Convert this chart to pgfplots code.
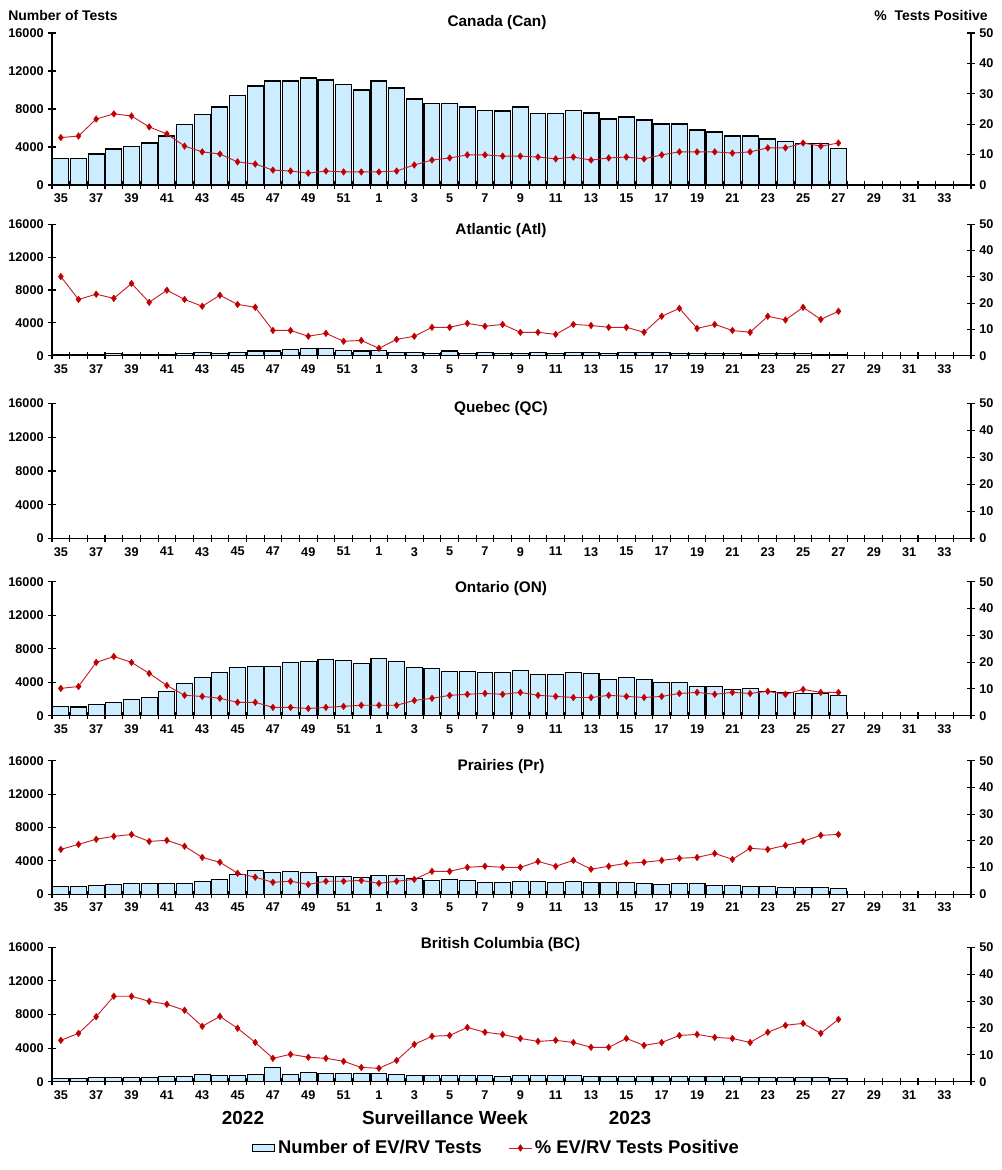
\documentclass[border=0pt]{standalone}
\usepackage{fontspec}
\setmainfont{Liberation Sans}
\usepackage{pgfplots}
\usepackage{pgfplotstable}
\pgfplotsset{compat=1.18}
\definecolor{barblue}{RGB}{204,236,255}
\definecolor{linered}{RGB}{200,30,40}
\definecolor{markred}{RGB}{192,0,0}

% columns: i = category index (0 = week 35 of 2022 ... 44 = week 27 of 2023), n = number of tests, p = % positive
\pgfplotstableread{
i n p
0 2800 15.6
1 2800 16.1
2 3260 21.7
3 3790 23.4
4 4100 22.7
5 4420 19.1
6 5160 16.8
7 6320 12.8
8 7470 10.9
9 8210 10.2
10 9470 7.6
11 10420 6.9
12 10950 4.9
13 10950 4.6
14 11260 3.9
15 11050 4.6
16 10530 4.3
17 10000 4.3
18 10950 4.3
19 10210 4.6
20 9050 6.6
21 8530 8.2
22 8530 8.9
23 8210 9.9
24 7890 9.9
25 7790 9.5
26 8210 9.5
27 7540 9.2
28 7540 8.6
29 7890 9.2
30 7580 8.2
31 6950 8.9
32 7160 9.2
33 6840 8.6
34 6420 9.9
35 6420 10.9
36 5790 10.9
37 5580 10.9
38 5160 10.5
39 5160 10.9
40 4840 12.2
41 4530 12.2
42 4320 13.8
43 4320 12.8
44 3890 13.8
}\tabcan
\pgfplotstableread{
i n p
0 200 30.1
1 200 21.4
2 200 23.4
3 280 21.8
4 200 27.5
5 200 20.3
6 200 24.9
7 280 21.4
8 400 18.8
9 280 23.0
10 400 19.5
11 570 18.4
12 570 9.6
13 810 9.6
14 930 7.4
15 930 8.5
16 690 5.5
17 570 5.8
18 690 2.8
19 400 6.2
20 400 7.4
21 280 10.8
22 570 10.8
23 280 12.3
24 400 11.2
25 280 11.9
26 280 8.9
27 400 8.9
28 280 8.1
29 400 11.9
30 400 11.5
31 280 10.8
32 400 10.8
33 400 8.9
34 400 15.0
35 280 18.0
36 280 10.4
37 280 11.9
38 280 9.6
39 200 8.9
40 280 15.0
41 280 13.6
42 280 18.4
43 200 13.8
44 200 16.9
}\tabatl
\pgfplotstableread{
i n p
0 1150 10.2
1 1040 10.9
2 1350 19.9
3 1590 22.1
4 1950 19.9
5 2190 15.8
6 2900 11.3
7 3860 7.6
8 4580 7.2
9 5170 6.5
10 5770 5.0
11 5890 5.0
12 5890 3.1
13 6370 3.1
14 6490 2.7
15 6730 3.1
16 6610 3.5
17 6250 3.9
18 6850 3.9
19 6490 3.9
20 5770 5.7
21 5650 6.5
22 5290 7.6
23 5290 8.0
24 5170 8.3
25 5170 8.0
26 5410 8.7
27 4940 7.6
28 4940 7.2
29 5170 6.8
30 5060 6.8
31 4340 7.6
32 4580 7.2
33 4340 6.8
34 3980 7.2
35 3980 8.3
36 3500 8.7
37 3500 8.0
38 3140 8.7
39 3260 8.3
40 2900 9.1
41 2790 8.0
42 2670 9.8
43 2670 8.7
44 2430 8.7
}\tabon
\pgfplotstableread{
i n p
0 960 16.8
1 960 18.7
2 1080 20.6
3 1200 21.7
4 1320 22.4
5 1320 19.8
6 1320 20.2
7 1320 18.0
8 1560 13.8
9 1800 12.0
10 2390 7.9
11 2870 6.4
12 2630 4.5
13 2750 4.9
14 2630 3.7
15 2160 4.9
16 2160 4.9
17 2040 5.2
18 2270 4.1
19 2270 4.9
20 1920 5.6
21 1680 8.6
22 1800 8.6
23 1680 10.1
24 1440 10.5
25 1440 10.1
26 1560 10.1
27 1560 12.3
28 1440 10.5
29 1560 12.7
30 1440 9.4
31 1440 10.5
32 1440 11.6
33 1320 12.0
34 1200 12.7
35 1320 13.5
36 1320 13.8
37 1080 15.3
38 1080 13.1
39 960 17.2
40 960 16.8
41 840 18.3
42 840 19.8
43 840 22.1
44 720 22.4
}\tabpr
\pgfplotstableread{
i n p
0 400 15.4
1 400 18.0
2 520 24.2
3 520 31.8
4 520 31.8
5 520 29.9
6 640 28.8
7 640 26.6
8 870 20.6
9 750 24.3
10 750 19.9
11 870 14.6
12 1710 8.7
13 870 10.2
14 1110 9.1
15 990 8.7
16 990 7.6
17 990 5.3
18 990 5.0
19 870 7.9
20 750 13.9
21 750 16.9
22 750 17.2
23 750 20.2
24 750 18.4
25 640 17.6
26 750 16.1
27 750 15.0
28 750 15.4
29 750 14.6
30 640 12.8
31 640 12.8
32 640 16.1
33 640 13.5
34 640 14.6
35 640 17.2
36 640 17.6
37 640 16.5
38 640 16.1
39 520 14.6
40 520 18.4
41 520 21.0
42 520 21.7
43 520 18.0
44 400 23.2
}\tabbc

\pgfplotsset{
  common/.style={
    scale only axis, width=689.25pt,
    xmin=-0.5, xmax=51.5,
    tick align=center, major tick length=5.5pt,
    axis line style={line width=0.8pt}, every tick/.style={line width=0.8pt, black},
    tick label style={font=\bfseries\fontsize{9.5}{11}\selectfont},
    scaled y ticks=false,
    /pgf/number format/assume math mode=true,
    /pgf/number format/1000 sep={},
    clip=false,
  },
  leftax/.style={common,
    ymin=0, ymax=16000, ytick={0,4000,...,16000},
    axis x line*=bottom, axis y line*=left,
    xtick={-0.5,0.5,...,51.5}, xticklabels={},
    extra x ticks={0,2,...,50},
    extra x tick labels={35,37,39,41,43,45,47,49,51,1,3,5,7,9,11,13,15,17,19,21,23,25,27,29,31,33},
    extra x tick style={major tick length=0pt, xticklabel style={yshift=-3pt}},
  },
  rightax/.style={common,
    ymin=0, ymax=50, ytick={0,10,...,50},
    axis y line*=right, axis x line=none,
    xtick=\empty,
  },
  bars/.style={ybar, bar width=0.9, bar shift=0pt, fill=barblue, draw=black, line width=0.8pt},
  pline/.style={color=linered, line width=0.7pt, mark=diamond*, mark size=2.5pt,
    mark options={fill=markred, draw=markred, line width=0.3pt}},
}

\begin{document}
\begin{tikzpicture}
\path[use as bounding box] (0,0) rectangle (751.5pt,-877.5pt);
\tikzset{ttl/.style={font=\bfseries\fontsize{11.5}{13}\selectfont, inner sep=0pt}}

% Canada
\begin{axis}[leftax, height=114pt, at={(52*0.75pt,-185*0.75pt)}, anchor=south west]
\addplot[bars] table[x=i,y=n]{\tabcan};
\end{axis}
\begin{axis}[rightax, height=114pt, at={(52*0.75pt,-185*0.75pt)}, anchor=south west]
\addplot[pline] table[x=i,y=p]{\tabcan};
\end{axis}
\node[ttl] at (497*0.75pt,-23*0.75pt) {Canada (Can)};

% Atlantic
\begin{axis}[leftax, height=98.6pt, at={(52*0.75pt,-355.7*0.75pt)}, anchor=south west]
\addplot[bars] table[x=i,y=n]{\tabatl};
\end{axis}
\begin{axis}[rightax, height=98.6pt, at={(52*0.75pt,-355.7*0.75pt)}, anchor=south west]
\addplot[pline] table[x=i,y=p]{\tabatl};
\end{axis}
\node[ttl] at (501*0.75pt,-231*0.75pt) {Atlantic (Atl)};

% Quebec
\begin{axis}[leftax, height=101.25pt, at={(52*0.75pt,-538.5*0.75pt)}, anchor=south west]
\end{axis}
\begin{axis}[rightax, height=101.25pt, at={(52*0.75pt,-538.5*0.75pt)}, anchor=south west]
\end{axis}
\node[ttl] at (501*0.75pt,-409*0.75pt) {Quebec (QC)};

% Ontario
\begin{axis}[leftax, height=100.5pt, at={(52*0.75pt,-715.7*0.75pt)}, anchor=south west]
\addplot[bars] table[x=i,y=n]{\tabon};
\end{axis}
\begin{axis}[rightax, height=100.5pt, at={(52*0.75pt,-715.7*0.75pt)}, anchor=south west]
\addplot[pline] table[x=i,y=p]{\tabon};
\end{axis}
\node[ttl] at (501*0.75pt,-589*0.75pt) {Ontario (ON)};

% Prairies
\begin{axis}[leftax, height=100.2pt, at={(52*0.75pt,-894.3*0.75pt)}, anchor=south west]
\addplot[bars] table[x=i,y=n]{\tabpr};
\end{axis}
\begin{axis}[rightax, height=100.2pt, at={(52*0.75pt,-894.3*0.75pt)}, anchor=south west]
\addplot[pline] table[x=i,y=p]{\tabpr};
\end{axis}
\node[ttl] at (501*0.75pt,-767*0.75pt) {Prairies (Pr)};

% British Columbia
\begin{axis}[leftax, height=100.8pt, at={(52*0.75pt,-1081.7*0.75pt)}, anchor=south west]
\addplot[bars] table[x=i,y=n]{\tabbc};
\end{axis}
\begin{axis}[rightax, height=100.8pt, at={(52*0.75pt,-1081.7*0.75pt)}, anchor=south west,
  legend style={at={(0.4837,-0.493)}, anchor=center, draw=none, fill=none,
    legend columns=2, font=\bfseries\fontsize{13.8}{15}\selectfont,
    /tikz/every even column/.append style={column sep=18pt}},
  legend cell align=left]
\addlegendimage{area legend, fill=barblue, draw=black, line width=0.8pt}
\addlegendentry{Number of EV/RV Tests}
\addplot[pline] table[x=i,y=p]{\tabbc};
\addlegendentry{\% EV/RV Tests Positive}
\end{axis}
\node[ttl] at (500.5*0.75pt,-945*0.75pt) {British Columbia (BC)};

% axis captions
\node[font=\bfseries\fontsize{10.5}{12}\selectfont, anchor=west, inner sep=0pt] at (8*0.75pt,-15*0.75pt) {Number of Tests};
\node[font=\bfseries\fontsize{10.5}{12}\selectfont, anchor=east, inner sep=0pt] at (988*0.75pt,-15*0.75pt) {\%\ \ Tests Positive};
\node[font=\bfseries\fontsize{14.2}{16}\selectfont, inner sep=0pt] at (243*0.75pt,-1118*0.75pt) {2022};
\node[font=\bfseries\fontsize{14.2}{16}\selectfont, inner sep=0pt] at (445*0.75pt,-1118*0.75pt) {Surveillance Week};
\node[font=\bfseries\fontsize{14.2}{16}\selectfont, inner sep=0pt] at (630*0.75pt,-1118*0.75pt) {2023};
\end{tikzpicture}
\end{document}
